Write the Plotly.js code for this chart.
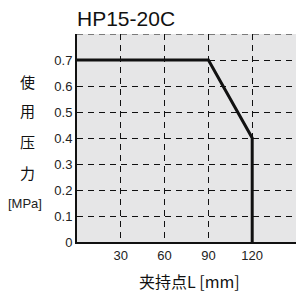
<!DOCTYPE html>
<html><head><meta charset="utf-8">
<script src="https://cdn.plot.ly/plotly-3.0.1.min.js"></script>
<style>html,body{margin:0;padding:0;background:#fff}</style>
</head><body>
<div id="chart" style="width:296px;height:297px"></div>
<script>
const clampL = [0, 90, 120, 120];
const pressure = [0.7, 0.7, 0.4, 0];
const xTicks = [30, 60, 90, 120];
const yTicks = [0, 0.1, 0.2, 0.3, 0.4, 0.5, 0.6, 0.7];
const yTickText = ['0', '0.1', '0.2', '0.3', '0.4', '0.5', '0.6', '0.7'];
const titleText = 'HP15-20C';
const xTitle = '夹持点L [mm]';
const yChars = ['使', '用', '压', '力'];
const yUnit = '[MPa]';

const font = "'Liberation Sans', Arial, sans-serif";
const cjk = "'Noto Sans CJK SC', sans-serif";

const annotations = [];
const yPos = [81, 110, 141, 172];
yChars.forEach((c, i) => {
  annotations.push({xref: 'paper', yref: 'paper', x: (27 - 77) / 219, y: (242 - yPos[i]) / 208,
    text: c, showarrow: false, xanchor: 'center', yanchor: 'middle',
    font: {family: cjk, size: 15, color: '#111'}});
});
annotations.push({xref: 'paper', yref: 'paper', x: (25 - 77) / 219, y: (242 - 203) / 208,
  text: yUnit, showarrow: false, xanchor: 'center', yanchor: 'middle',
  font: {family: font, size: 13, color: '#222'}});
annotations.push({xref: 'paper', yref: 'paper', x: (189 - 77) / 219, y: -(281 - 242) / 208,
  text: xTitle, showarrow: false, xanchor: 'center', yanchor: 'middle',
  font: {family: cjk, size: 16, color: '#111'}});

Plotly.newPlot('chart', [{
  x: clampL, y: pressure, type: 'scatter', mode: 'lines',
  line: {color: '#111', width: 3}, hoverinfo: 'skip'
}], {
  width: 296, height: 297,
  margin: {l: 77, r: 0, t: 34, b: 55},
  paper_bgcolor: '#fff', plot_bgcolor: '#e6e6e7',
  showlegend: false,
  title: {text: titleText, x: 77 / 296, xanchor: 'left', y: 1 - 19 / 297, yanchor: 'middle',
    font: {family: font, size: 21, color: '#111'}},
  xaxis: {range: [0, 150], tickvals: xTicks, ticks: '', showgrid: true,
    gridcolor: '#111', gridwidth: 1, griddash: '6px,5px', zeroline: false,
    showline: true, linecolor: '#111', linewidth: 2,
    tickfont: {family: font, size: 13, color: '#222'}},
  yaxis: {range: [0, 0.8], tickvals: yTicks, ticktext: yTickText, ticks: '', showgrid: true,
    gridcolor: '#111', gridwidth: 1, griddash: '6px,5px', zeroline: false,
    showline: true, linecolor: '#111', linewidth: 2,
    tickfont: {family: font, size: 13, color: '#222'}},
  shapes: [{type: 'line', xref: 'paper', yref: 'y', x0: 0, x1: 1, y0: 0.8, y1: 0.8,
    line: {color: '#111', width: 1, dash: '6px,5px'}}],
  annotations: annotations
}, {staticPlot: true, displayModeBar: false});
</script>
</body></html>
